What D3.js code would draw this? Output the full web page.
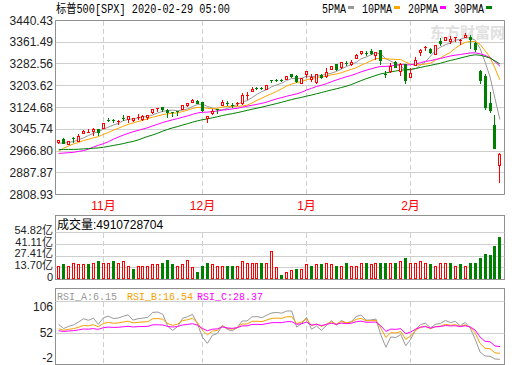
<!DOCTYPE html>
<html><head><meta charset="utf-8">
<script src="https://cdn.jsdelivr.net/npm/d3@7"></script>
<style>body{margin:0;background:#fff}svg{display:block}</style>
</head><body>
<script>
// ---------- DATA ----------
const title = "标普500[SPX] 2020-02-29 05:00";
const dates = [
 "2019-10-21","2019-10-22","2019-10-23","2019-10-24","2019-10-25","2019-10-28","2019-10-29","2019-10-30","2019-10-31",
 "2019-11-01","2019-11-04","2019-11-05","2019-11-06","2019-11-07","2019-11-08","2019-11-11","2019-11-12","2019-11-13","2019-11-14","2019-11-15","2019-11-18","2019-11-19","2019-11-20","2019-11-21","2019-11-22","2019-11-25","2019-11-26","2019-11-27","2019-11-29",
 "2019-12-02","2019-12-03","2019-12-04","2019-12-05","2019-12-06","2019-12-09","2019-12-10","2019-12-11","2019-12-12","2019-12-13","2019-12-16","2019-12-17","2019-12-18","2019-12-19","2019-12-20","2019-12-23","2019-12-24","2019-12-26","2019-12-27","2019-12-30","2019-12-31",
 "2020-01-02","2020-01-03","2020-01-06","2020-01-07","2020-01-08","2020-01-09","2020-01-10","2020-01-13","2020-01-14","2020-01-15","2020-01-16","2020-01-17","2020-01-21","2020-01-22","2020-01-23","2020-01-24","2020-01-27","2020-01-28","2020-01-29","2020-01-30","2020-01-31",
 "2020-02-03","2020-02-04","2020-02-05","2020-02-06","2020-02-07","2020-02-10","2020-02-11","2020-02-12","2020-02-13","2020-02-14","2020-02-18","2020-02-19","2020-02-20","2020-02-21","2020-02-24","2020-02-25","2020-02-26","2020-02-27","2020-02-28"
];
const open = [
 3000.66,3010.73,2994.01,3014.78,3003.32,3032.12,3035.39,3039.74,3046.90,
 3050.72,3078.96,3080.80,3075.10,3087.02,3081.25,3080.33,3089.28,3084.18,3090.75,3107.92,3117.91,3127.45,3114.66,3108.49,3111.41,3117.44,3134.85,3145.49,3147.18,
 3143.85,3087.41,3103.50,3119.21,3134.62,3141.86,3135.36,3135.75,3141.23,3166.65,3183.63,3195.40,3195.21,3192.32,3223.33,3226.05,3225.45,3227.20,3247.23,3240.09,3215.18,
 3244.67,3226.36,3217.55,3241.86,3238.59,3266.03,3281.81,3271.13,3285.35,3282.27,3302.97,3323.66,3321.03,3330.02,3315.77,3333.10,3247.16,3255.35,3289.46,3256.45,3282.33,
 3235.66,3280.61,3324.91,3344.92,3335.54,3318.28,3365.87,3370.50,3365.90,3378.08,3369.04,3380.39,3380.45,3360.50,3257.61,3238.94,3139.90,3062.54,2916.90
];
const high = [
 3007.33,3014.57,3004.78,3016.07,3027.39,3044.08,3047.87,3050.10,3046.90,
 3066.95,3085.20,3083.95,3078.34,3097.77,3093.09,3088.33,3102.61,3098.06,3098.20,3120.46,3124.17,3127.64,3118.97,3110.11,3112.87,3133.83,3142.69,3154.26,3150.30,
 3144.31,3094.97,3119.38,3119.45,3150.60,3148.87,3142.12,3143.98,3176.28,3182.68,3197.71,3198.22,3198.48,3205.48,3225.65,3227.78,3226.43,3240.08,3247.93,3240.92,3231.72,
 3258.14,3246.15,3246.84,3244.91,3267.07,3275.58,3282.99,3288.13,3294.25,3298.66,3317.11,3329.88,3329.79,3337.77,3326.88,3333.18,3258.85,3285.78,3293.47,3285.91,3282.33,
 3268.44,3306.92,3337.58,3347.96,3341.42,3352.26,3375.63,3381.47,3385.09,3380.69,3375.01,3393.52,3389.15,3360.76,3259.81,3246.99,3182.51,3097.07,2959.72
];
const low = [
 2995.35,2995.04,2991.21,3000.42,3001.94,3032.12,3034.81,3025.96,3023.19,
 3050.72,3074.87,3072.15,3065.89,3080.23,3073.58,3075.82,3084.73,3078.80,3083.26,3104.60,3112.06,3113.47,3091.41,3094.55,3099.26,3117.44,3131.00,3143.41,3139.34,
 3110.78,3070.33,3102.53,3103.76,3134.62,3135.46,3126.09,3133.21,3138.47,3156.51,3183.63,3191.03,3190.58,3191.14,3216.03,3222.30,3220.51,3227.20,3234.37,3216.57,3212.03,
 3235.53,3222.34,3214.64,3232.43,3236.67,3263.67,3260.86,3268.43,3277.19,3280.69,3302.82,3318.86,3316.61,3320.04,3301.87,3281.53,3234.50,3253.22,3271.89,3242.80,3214.68,
 3235.66,3280.61,3313.75,3334.39,3322.12,3317.77,3352.72,3369.72,3360.52,3366.15,3355.61,3378.83,3341.02,3328.45,3214.65,3118.77,3108.99,2977.39,2855.84
];
const close = [
 3006.72,2995.99,3004.52,3010.29,3022.55,3039.42,3036.89,3046.77,3037.56,
 3066.91,3078.27,3074.62,3076.78,3085.18,3093.08,3087.01,3091.84,3094.04,3096.63,3120.46,3122.03,3120.18,3108.46,3103.54,3110.29,3133.64,3140.52,3153.63,3140.98,
 3113.87,3093.20,3112.76,3117.43,3145.91,3135.96,3132.52,3141.63,3168.57,3168.80,3191.45,3192.52,3191.14,3205.37,3221.22,3224.01,3223.38,3239.91,3240.02,3221.29,3230.78,
 3257.85,3234.85,3246.28,3237.18,3253.05,3274.70,3265.35,3288.13,3283.15,3289.29,3316.81,3329.62,3320.79,3321.75,3325.54,3295.47,3243.63,3276.24,3273.40,3283.66,3225.52,
 3248.92,3297.59,3334.69,3345.78,3327.71,3352.09,3357.75,3379.45,3373.94,3380.16,3370.29,3386.15,3373.23,3337.75,3225.89,3128.21,3116.39,2978.76,2954.22
];
// volume (shares)
const volume = [
 1.63e9,1.75e9,1.63e9,1.87e9,1.75e9,1.75e9,1.75e9,1.87e9,2.10e9,
 1.87e9,1.98e9,2.10e9,1.87e9,2.10e9,1.63e9,1.28e9,1.63e9,1.63e9,1.52e9,1.75e9,1.75e9,1.87e9,2.22e9,1.75e9,1.52e9,1.75e9,2.33e9,1.40e9,0.82e9,
 1.63e9,1.87e9,1.75e9,1.52e9,1.63e9,1.52e9,1.52e9,1.52e9,2.10e9,1.87e9,1.98e9,1.87e9,1.98e9,1.87e9,3.38e9,1.40e9,0.58e9,0.93e9,1.05e9,1.17e9,1.17e9,
 1.75e9,1.63e9,1.75e9,1.75e9,1.87e9,1.75e9,1.52e9,1.63e9,1.87e9,1.63e9,1.63e9,1.98e9,1.98e9,1.75e9,1.87e9,1.98e9,1.98e9,1.87e9,1.98e9,2.10e9,2.56e9,
 1.98e9,1.98e9,2.10e9,1.87e9,1.75e9,1.63e9,1.87e9,1.87e9,1.87e9,1.52e9,1.75e9,1.63e9,1.87e9,1.98e9,2.56e9,3.03e9,2.80e9,3.85e9,4910728704
];
// closes before the window, used only to warm up the MA / RSI indicators
const priorCloses = [
 2964.33,2973.01,2995.82,2990.41,2975.95,2979.63,2993.07,2999.91,3013.77,3014.30,3004.04,2984.42,2995.11,2976.61,2985.03,3005.47,3019.56,3003.67,3025.86,3020.97,3013.18,2980.38,
 2953.56,2932.05,2844.74,2881.77,2883.98,2938.09,2918.65,2882.70,2926.32,2840.60,2847.60,2888.68,2923.65,2900.51,2924.43,2922.95,2847.11,2878.38,2869.16,2887.94,2924.58,2926.46,
 2906.27,2937.78,2976.00,2978.71,2978.43,2979.39,3000.93,3009.57,3007.39,2997.96,3005.70,3006.73,3006.79,2992.07,2991.78,2966.60,2984.87,2977.62,2961.79,2976.74,
 2940.25,2887.61,2910.63,2952.01,2938.79,2893.06,2919.40,2938.13,2970.27,2966.15,2995.68,2989.69,2997.95,2986.20
];
const priceTicks = ["3440.43","3361.49","3282.56","3203.62","3124.68","3045.74","2966.80","2887.87","2808.93"];
const volTicks = ["54.82亿","41.11亿","27.41亿","13.70亿","0"];
const rsiTicks = ["106","52","-2"];
const monthStarts = ["2019-11-01","2019-12-02","2020-01-02","2020-02-03"];
const monthLabels = ["11月","12月","1月","2月"];
const maPeriods = [5,10,20,30];
const maNames = ["5PMA","10PMA","20PMA","30PMA"];
const maColors = ["#999999","#ffa500","#ff00ff","#008000"];
const rsiPeriods = [6,12,24];
const rsiNames = ["RSI_A","RSI_B","RSI_C"];
const rsiHeaderValues = ["6.15","16.54","28.37"];
const rsiColors = ["#999999","#f5a000","#ff00ff"];
const volLabel = "成交量";

// ---------- INDICATORS ----------
const allC = priorCloses.concat(close);
const P = priorCloses.length;
const maSeries = maPeriods.map(n => close.map((c,i) => d3.mean(allC.slice(P+i-n+1, P+i+1))));
const rsiSeries = rsiPeriods.map(n => {
  let up=null, ab=null; const out=[];
  for (let k=1;k<allC.length;k++){
    const d=allC[k]-allC[k-1];
    const u=Math.max(d,0), a=Math.abs(d);
    if(up===null){up=u;ab=a;} else {up=(u+(n-1)*up)/n; ab=(a+(n-1)*ab)/n;}
    if(k>=P) out.push(ab===0?50:up/ab*100);
  }
  return out;
});

// ---------- CHART ----------
const svg=d3.select("body").append("svg").attr("width",520).attr("height",365)
  .style("font-family","'Liberation Sans',Arial,'Noto Sans CJK SC',sans-serif");
const L=55.5, R=504.5;
const GRID="#cfcfcf", BORDER="#909090", RED="#ff0000", GREEN="#008000";
const x=d3.scaleBand().domain(dates).range([56.2,502.4]);
const px=d=>Math.round(x(d)+x.bandwidth()/2-0.5);   // pixel column
const cxf=i=>x(dates[i])+x.bandwidth()/2;

const yP=d3.scaleLinear().domain([2808.93,3440.43]).range([194.5,20.5]);
const yV=d3.scaleLinear().domain([0,54.82e8]).range([279.5,232.5]);
const yR=d3.scaleLinear().domain([-2,106]).range([364,302]);
const h5=v=>Math.floor(v)+0.5;

const monoFont="'Liberation Mono','Noto Sans CJK SC',monospace";

// Title & legend
svg.append("text").attr("x",56).attr("y",12.5).attr("font-family",monoFont).attr("font-size",12)
  .attr("textLength",174).attr("lengthAdjust","spacingAndGlyphs").attr("fill","#000").text(title);
let lx=322;
maNames.forEach((nm,k)=>{
  const w=nm.length*6;
  svg.append("text").attr("x",lx).attr("y",12.5).attr("font-family",monoFont).attr("font-size",12)
    .attr("textLength",w).attr("lengthAdjust","spacingAndGlyphs").attr("fill","#000").text(nm);
  svg.append("rect").attr("x",lx+w+2).attr("y",6).attr("width",6).attr("height",3).attr("fill",maColors[k]);
  lx+=w+2+6+8;
});

// ---- main panel ----
const gMain=svg.append("g");
priceTicks.forEach(t=>{
  const yy=h5(yP(+t));
  gMain.append("line").attr("x1",L).attr("x2",R).attr("y1",yy).attr("y2",yy).attr("stroke",GRID);
  svg.append("text").attr("x",53).attr("y",yP(+t)).attr("dy","0.35em").attr("text-anchor","end")
    .attr("font-size",12).attr("fill","#222").text(t);
});
function vDash(y1,y2){
  monthStarts.forEach(m=>{
    const xx=px(m)+0.5;
    svg.append("line").attr("x1",xx).attr("x2",xx).attr("y1",y1).attr("y2",y2)
      .attr("stroke",GRID).attr("stroke-dasharray","5,3");
  });
}
vDash(21,194);
monthStarts.forEach((m,k)=>{
  svg.append("text").attr("x",px(m)+0.5).attr("y",205.5).attr("dy","0.35em").attr("text-anchor","middle")
    .attr("font-size",12).attr("fill",RED).text(monthLabels[k]);
});

// watermark
svg.append("text").attr("x",505).attr("y",38).attr("text-anchor","end").attr("font-size",15).attr("font-weight","bold")
  .attr("font-family","'Noto Sans CJK SC',sans-serif").attr("fill","#e0e0e0").text("东方财富网");

// MA lines
const clipId="clipMain";
svg.append("clipPath").attr("id",clipId).append("rect").attr("x",56).attr("y",21).attr("width",448).attr("height",173);
const gLines=svg.append("g").attr("clip-path",`url(#${clipId})`);
maSeries.forEach((s,k)=>{
  gLines.append("path").datum(s).attr("fill","none").attr("stroke",maColors[k]).attr("stroke-width",1)
    .attr("d",d3.line().x((d,i)=>cxf(i)).y(d=>yP(d)));
});

// candles
const gC=svg.append("g").attr("shape-rendering","crispEdges");
dates.forEach((d,i)=>{
  const c=px(d), up=close[i]>=open[i], col=up?RED:GREEN;
  const top=Math.round(yP(Math.max(open[i],close[i]))), bot=Math.round(yP(Math.min(open[i],close[i])));
  gC.append("line").attr("x1",c+0.5).attr("x2",c+0.5).attr("y1",Math.round(yP(high[i]))).attr("y2",Math.round(yP(low[i]))+1).attr("stroke",col);
  if(bot-top<=1){
    gC.append("rect").attr("x",c-1).attr("y",top).attr("width",3).attr("height",1).attr("fill",col);
  } else if(up){
    gC.append("rect").attr("x",c-0.5).attr("y",top+0.5).attr("width",2).attr("height",bot-top).attr("fill","#fff").attr("stroke",col);
  } else {
    gC.append("rect").attr("x",c-1).attr("y",top).attr("width",3).attr("height",bot-top+1).attr("fill",col);
  }
});
svg.append("path").attr("d",`M${L},194.5V20.5H${R}V194.5`).attr("fill","none").attr("stroke",BORDER);
svg.append("line").attr("x1",L).attr("x2",R).attr("y1",194.5).attr("y2",194.5).attr("stroke",BORDER);

// ---- volume panel ----
svg.append("rect").attr("x",L).attr("y",215.5).attr("width",R-L).attr("height",64).attr("fill","none").attr("stroke",BORDER);
volTicks.forEach(t=>{
  const v=parseFloat(t)*1e8, yy=yV(v);
  if(v>0) svg.append("line").attr("x1",L).attr("x2",R).attr("y1",h5(yy)).attr("y2",h5(yy)).attr("stroke",GRID);
  svg.append("text").attr("x",53).attr("y",yy-2.5).attr("dy","0.35em").attr("text-anchor","end")
    .attr("font-size",11).attr("fill","#222").text(t);
});
vDash(233,279);
svg.append("text").attr("x",57).attr("y",228.5).attr("font-size",12).attr("fill","#000")
  .text(volLabel+":"+volume[volume.length-1]);
const gV=svg.append("g").attr("shape-rendering","crispEdges");
dates.forEach((d,i)=>{
  const c=px(d);
  const prev=i===0?priorCloses[P-1]:close[i-1];
  const up=close[i]>=prev;
  const top=Math.round(yV(volume[i]));
  if(up) gV.append("rect").attr("x",c-0.5).attr("y",top+0.5).attr("width",2).attr("height",279-top-1).attr("fill","#fff").attr("stroke",RED);
  else gV.append("rect").attr("x",c-1).attr("y",top).attr("width",3).attr("height",279-top).attr("fill",GREEN);
});

// ---- RSI panel ----
svg.append("rect").attr("x",L).attr("y",288.5).attr("width",R-L).attr("height",76).attr("fill","none").attr("stroke",BORDER);
svg.append("line").attr("x1",L).attr("x2",R).attr("y1",301.5).attr("y2",301.5).attr("stroke",GRID);
rsiTicks.forEach(t=>{
  const v=+t, yy=yR(v);
  if(v>-2 && v<106) svg.append("line").attr("x1",L).attr("x2",R).attr("y1",h5(yy)).attr("y2",h5(yy)).attr("stroke",GRID);
  svg.append("text").attr("x",53).attr("y",Math.max(306.5,Math.min(357.5,yy))).attr("dy","0.35em").attr("text-anchor","end")
    .attr("font-size",12).attr("fill","#222").text(t);
});
vDash(302,364);
const rsiX=[57,127,197];
rsiNames.forEach((nm,k)=>{
  const s=nm+":"+rsiHeaderValues[k];
  svg.append("text").attr("x",rsiX[k]).attr("y",299.5).attr("font-family",monoFont).attr("font-size",10)
    .attr("fill",rsiColors[k]).text(s);
});
svg.append("clipPath").attr("id","clipR").append("rect").attr("x",56).attr("y",302).attr("width",448).attr("height",62);
const gR=svg.append("g").attr("clip-path","url(#clipR)");
rsiSeries.forEach((s,k)=>{
  gR.append("path").datum(s).attr("fill","none").attr("stroke",rsiColors[k]).attr("stroke-width",1)
    .attr("d",d3.line().x((d,i)=>cxf(i)).y(d=>yR(d)));
});
</script>
</body></html>
